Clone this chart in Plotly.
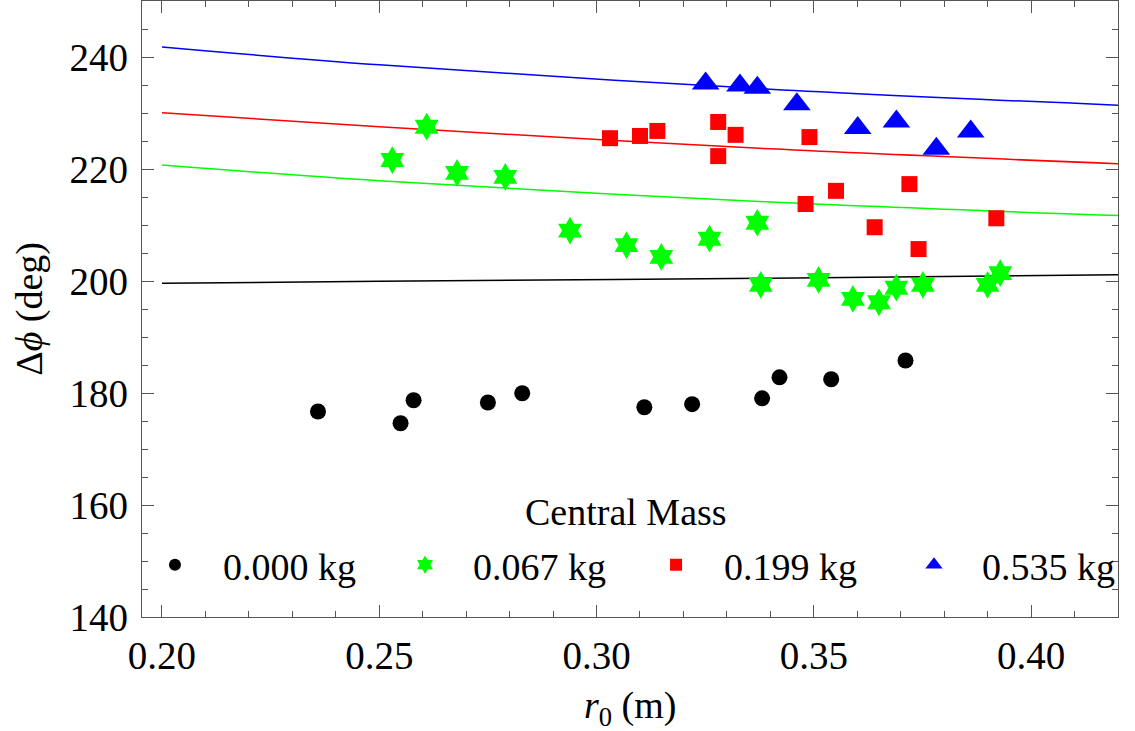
import plotly.graph_objects as go

# ---- data ----
r_000 = [0.2359, 0.2549, 0.2579, 0.2750, 0.2829, 0.3110, 0.3220, 0.3381, 0.3421, 0.3540, 0.3711]
d_000 = [176.7, 174.6, 178.7, 178.3, 179.95, 177.45, 178.0, 179.05, 182.8, 182.45, 185.8]

r_067 = [0.2530, 0.2609, 0.2679, 0.2790, 0.2939, 0.3069, 0.3149, 0.3260, 0.3370, 0.3378,
         0.3511, 0.3590, 0.3650, 0.3690, 0.3751, 0.3900, 0.3929]
d_067 = [221.6, 227.55, 219.3, 218.6, 209.0, 206.4, 204.3, 207.55, 210.4, 199.3,
         200.2, 196.8, 196.2, 198.8, 199.3, 199.3, 201.4]

r_199 = [0.3031, 0.3100, 0.3140, 0.3280, 0.3280, 0.3320, 0.3490, 0.3481, 0.3551, 0.3640,
         0.3720, 0.3741, 0.3920]
d_199 = [225.5, 225.9, 226.8, 228.4, 222.3, 226.1, 225.7, 213.75, 216.1, 209.6,
         217.3, 205.7, 211.2]

r_535 = [0.3251, 0.3330, 0.3370, 0.3461, 0.3601, 0.3690, 0.3782, 0.3861]
d_535 = [235.25, 234.9, 234.5, 231.55, 227.3, 228.5, 223.6, 226.7]

fit_r = [0.20, 0.25, 0.34, 0.42]
fit_000 = [199.6, 199.95, 200.5, 201.1]
fit_067 = [220.7, 217.9, 214.1, 211.7]
fit_199 = [230.05, 227.55, 223.6, 220.95]
fit_535 = [241.8, 238.6, 234.25, 231.4]

labels = ["0.000 kg", "0.067 kg", "0.199 kg", "0.535 kg"]
legend_title = "Central Mass"
x_title = "<i>r</i><sub>0</sub> (m)"
y_title = "Δ<i>ϕ</i> (deg)"

colors = ["#000000", "#00FF00", "#FF0000", "#0000FF"]
symbols = ["circle", "hexagram", "square", "triangle-up"]
sizes = [16, 21, 16, 24]
leg_sizes = [12, 14, 12, 15]
legend_ids = ["legend", "legend2", "legend3", "legend4"]
legend_x = [-0.0154, 0.2408, 0.4980, 0.7623]

series = [(r_000, d_000, fit_000), (r_067, d_067, fit_067),
          (r_199, d_199, fit_199), (r_535, d_535, fit_535)]

FONT = "Liberation Serif"
FS = 38
TFS = 39

fig = go.Figure()

# fit lines
for (rx, dy, fy), c in zip(series, colors):
    fig.add_trace(go.Scatter(x=fit_r, y=fy, mode="lines", line=dict(color=c, width=1.5, shape="spline"),
                             showlegend=False, hoverinfo="skip"))

# data points
for (rx, dy, fy), c, s, sz in zip(series, colors, symbols, sizes):
    fig.add_trace(go.Scatter(x=rx, y=dy, mode="markers",
                             marker=dict(color=c, symbol=s, size=sz, line=dict(width=0)),
                             showlegend=False))

# legend entries (one legend per item, for exact placement)
for lab, c, s, sz, lid in zip(labels, colors, symbols, leg_sizes, legend_ids):
    fig.add_trace(go.Scatter(x=[None], y=[None], mode="markers", name=lab, legend=lid,
                             marker=dict(color=c, symbol=s, size=sz, line=dict(width=0))))

axis_common = dict(
    showgrid=False, zeroline=False, showline=True, linecolor="#555555", linewidth=1.3,
    mirror="ticks", ticks="inside", ticklen=12, tickwidth=1.2, tickcolor="#555555",
    tickfont=dict(family=FONT, size=TFS, color="black"), automargin=False,
)

fig.update_xaxes(range=[0.1954, 0.42], dtick=0.05, tick0=0.2, tickformat=".2f",
                 ticklabelstandoff=4,
                 minor=dict(dtick=0.01, tick0=0.2, ticks="inside", ticklen=6, tickcolor="#555555"),
                 **axis_common)
fig.update_yaxes(range=[140, 250], dtick=20, tick0=140,
                 ticklabelstandoff=5,
                 minor=dict(dtick=5, tick0=140, ticks="inside", ticklen=6, tickcolor="#555555"),
                 **axis_common)

leg_common = dict(
    orientation="h", xanchor="left", y=0.0844, yanchor="middle",
    bgcolor="rgba(0,0,0,0)", borderwidth=0,
    font=dict(family=FONT, size=FS, color="black"),
    itemwidth=86,
)
layout_legends = {lid: dict(x=lx, **leg_common) for lid, lx in zip(legend_ids, legend_x)}

fig.update_layout(
    width=1135, height=731,
    margin=dict(l=142, r=17, t=1, b=114, autoexpand=False),
    paper_bgcolor="white", plot_bgcolor="white",
    font=dict(family=FONT, color="black"),
    showlegend=True,
    **layout_legends,
)

# legend title and axis titles
fig.add_annotation(text=legend_title, xref="paper", yref="paper", x=0.4963, y=0.1705,
                   xanchor="center", yanchor="middle", showarrow=False,
                   font=dict(family=FONT, size=FS, color="black"))
fig.add_annotation(text=x_title, xref="paper", yref="paper", x=0.5, y=-0.148,
                   xanchor="center", yanchor="middle", showarrow=False,
                   font=dict(family=FONT, size=FS, color="black"))
fig.add_annotation(text=y_title, xref="paper", yref="paper", x=-0.116, y=0.5, textangle=-90,
                   xanchor="center", yanchor="middle", showarrow=False,
                   font=dict(family=FONT, size=FS, color="black"))

fig.write_html("out.html", config={"displayModeBar": False},
               post_script="document.body.style.margin='0';document.body.style.overflow='hidden';")
